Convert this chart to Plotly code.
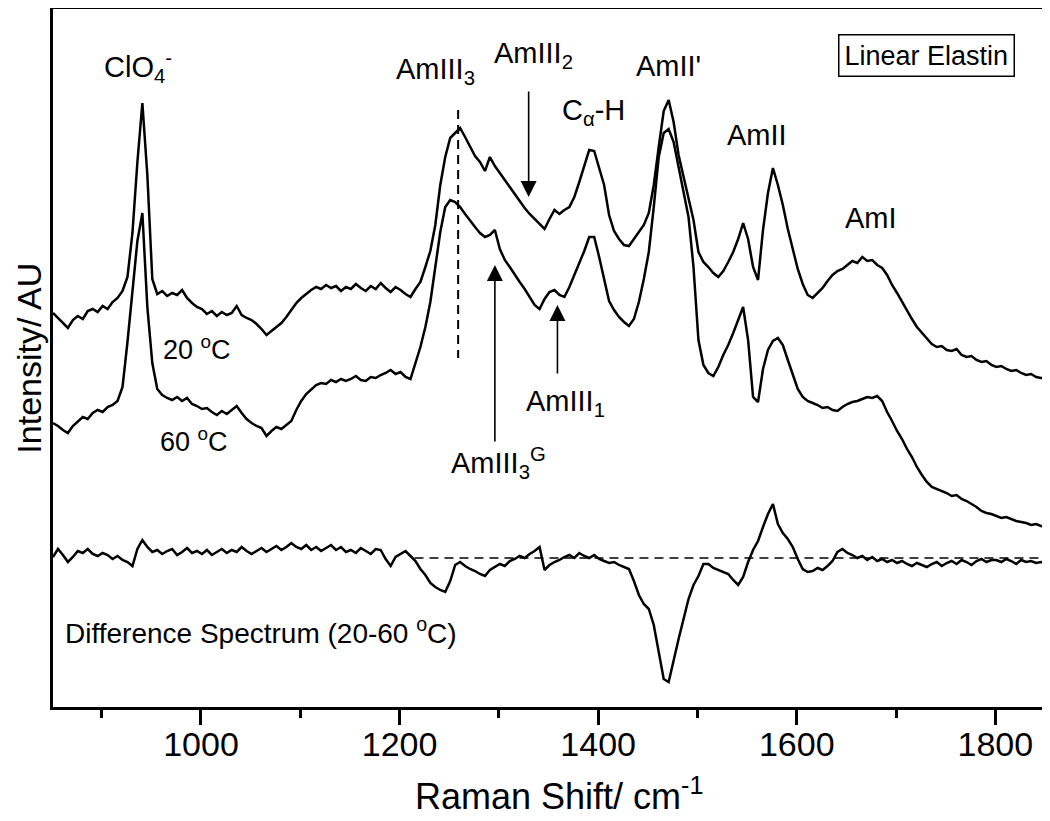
import plotly.graph_objects as go

# Raman shift grid (cm^-1), sampled every 5 cm^-1
RAMAN_SHIFT = list(range(851, 1852, 5))

# Intensity (arbitrary units)
INT_20C = [
    394, 389, 384, 379, 387, 391, 388, 396, 398, 395,
    401, 398, 405, 409, 416, 430, 474, 545, 604, 532,
    428, 413, 416, 411, 414, 412, 417, 409, 404, 400,
    398, 393, 396, 391, 395, 392, 394, 401, 392, 389,
    387, 383, 378, 372, 376, 380, 384, 390, 397, 404,
    409, 413, 417, 420, 418, 422, 419, 421, 416, 420,
    418, 423, 419, 416, 421, 418, 424, 419, 415, 420,
    417, 413, 410, 418, 425, 440, 456, 482, 522, 550,
    569, 574, 579, 570, 561, 551, 545, 536, 550, 541,
    534, 527, 520, 513, 505, 499, 493, 488, 484, 478,
    488, 497, 493, 497, 500, 510, 525, 540, 557, 556,
    540, 522, 492, 476, 468, 462, 461, 468, 474, 482,
    494, 522, 560, 596, 607, 585, 552, 530, 510, 487,
    455, 445, 440, 434, 430, 436, 445, 455, 468, 484,
    468, 440, 427, 477, 514, 539, 522, 502, 478, 458,
    438, 423, 412, 409, 414, 419, 426, 432, 436, 438,
    442, 446, 444, 450, 446, 447, 442, 439, 432, 422,
    414, 405, 396, 388, 380, 374, 368, 363, 360, 361,
    357, 356, 358, 352, 350, 351, 347, 345, 346, 342,
    340, 341, 338, 336, 337, 334, 332, 333, 330, 329,
    329,
]

INT_60C = [
    284, 281, 277, 274, 281, 286, 290, 288, 294, 297,
    295, 300, 302, 306, 320, 365, 418, 466, 494, 400,
    344, 318, 312, 309, 307, 310, 306, 309, 303, 301,
    298, 299, 295, 292, 296, 293, 297, 301, 294, 288,
    284, 281, 279, 271, 276, 280, 278, 282, 286, 297,
    306, 313, 318, 322, 324, 323, 327, 325, 328, 326,
    328, 331, 327, 326, 330, 329, 332, 334, 337, 333,
    335, 330, 328, 345, 360, 380, 405, 440, 475, 500,
    507, 505, 500, 493, 486, 480, 474, 470, 472, 477,
    458, 447, 440, 432, 425, 418, 410, 402, 398, 408,
    415, 417, 412, 410, 420, 432, 444, 456, 470, 470,
    450, 428, 406, 397, 390, 385, 381, 388, 405, 428,
    455, 500, 550, 574, 578, 565, 540, 512, 490, 440,
    367, 342, 334, 331, 340, 352, 362, 374, 388, 400,
    367, 310, 305, 338, 357, 366, 369, 362, 347, 332,
    318, 310, 306, 304, 302, 299, 300, 297, 296, 300,
    303, 305, 306, 308, 310, 309, 311, 306, 295, 286,
    276, 268, 258, 250, 240, 232, 225, 220, 218, 216,
    214, 211, 212, 208, 206, 203, 200, 196, 194, 193,
    191, 189, 190, 188, 186, 185, 184, 182, 183, 181,
    180,
]

INT_DIFF = [
    150, 158, 152, 145, 150, 156, 154, 158, 153, 151,
    154, 152, 148, 151, 147, 145, 141, 158, 167, 160,
    155, 157, 153, 156, 158, 152, 155, 159, 154, 156,
    153, 157, 152, 155, 158, 154, 157, 155, 160, 156,
    153, 156, 159, 155, 158, 161, 157, 160, 164, 160,
    158, 162, 157, 160, 156, 159, 162, 157, 160, 155,
    157, 154, 159, 156, 153, 158, 157, 148, 141, 150,
    153, 156, 151, 146, 138, 132, 124, 120, 117, 115,
    126, 142, 145, 141, 138, 136, 133, 131, 137, 140,
    143, 141, 146, 148, 151, 149, 153, 156, 160, 137,
    142, 145, 147, 150, 152, 149, 154, 151, 149, 152,
    148, 146, 144, 145, 142, 140, 138, 126, 112, 103,
    98, 82, 55, 28, 25, 48, 68, 88, 108, 122,
    131, 143, 143, 139, 137, 135, 133, 127, 122, 130,
    145, 157, 166, 180, 193, 203, 183, 174, 168, 160,
    148, 138, 135, 136, 139, 137, 141, 146, 155, 158,
    154, 152, 149, 151, 147, 150, 146, 148, 145, 147,
    144, 146, 143, 141, 144, 142, 140, 143, 145, 141,
    144, 146, 143, 147, 145, 142, 146, 148, 145, 147,
    147, 145, 148, 146, 143, 147, 145, 146, 144, 145,
    144,
]

# difference-spectrum zero line and AmIII3 marker
BASELINE_X = [1215, 1848]
BASELINE_Y = [149, 149]
AMIII3_X = [1259, 1259]
AMIII3_Y = [597, 349]

X_TICKS = [1000, 1200, 1400, 1600, 1800]
X_MINOR = [900, 1100, 1300, 1500, 1700]

FONT = "Liberation Sans, Arial, sans-serif"
fig = go.Figure()
for ys in (INT_20C, INT_60C, INT_DIFF):
    fig.add_trace(go.Scatter(x=RAMAN_SHIFT, y=ys, mode="lines",
                             line=dict(color="black", width=2.5),
                             showlegend=False, hoverinfo="skip"))
fig.add_trace(go.Scatter(x=BASELINE_X, y=BASELINE_Y, mode="lines",
                         line=dict(color="black", width=1.5, dash="9px,6px"),
                         showlegend=False))
fig.add_trace(go.Scatter(x=AMIII3_X, y=AMIII3_Y, mode="lines",
                         line=dict(color="black", width=2, dash="9px,6px"),
                         showlegend=False))

ann = []
def label(x, y, text, size=29, xanchor="center"):
    ann.append(dict(x=x, y=y, xref="x", yref="y", text=text, showarrow=False,
                    font=dict(size=size, color="black", family=FONT),
                    xanchor=xanchor, yanchor="middle"))

def arrow(x, y_head, y_tail):
    ann.append(dict(x=x, y=y_head, ax=x, ay=y_tail, xref="x", yref="y",
                    axref="x", ayref="y", text="", showarrow=True,
                    arrowhead=2, arrowsize=2, arrowwidth=1.6, arrowcolor="black"))

label(937, 640, "ClO<sub>4</sub><sup>-</sup>")
label(1236, 636, "AmIII<sub>3</sub>")
label(1335, 652, "AmIII<sub>2</sub>")
label(1395, 595, "C<sub>α</sub>-H")
label(1471, 641, "AmII'")
label(1560, 572, "AmII")
label(1675, 489, "AmI")
label(996, 359, "20 <sup>o</sup>C", size=27)
label(993, 267, "60 <sup>o</sup>C", size=27)
label(1300, 244, "AmIII<sub>3</sub><sup>G</sup>")
label(1367, 304, "AmIII<sub>1</sub>")
label(861, 76, "Difference Spectrum (20-60 <sup>o</sup>C)", size=28, xanchor="left")

arrow(1330, 510, 617)
arrow(1296, 442, 264)
arrow(1359, 402, 332)

ann.append(dict(x=1731, y=652, xref="x", yref="y", text="Linear Elastin",
                showarrow=False, font=dict(size=27, color="black", family=FONT),
                bordercolor="black", borderwidth=1.5, borderpad=5,
                xanchor="center", yanchor="middle"))

ann.append(dict(x=0.51, y=-0.125, xref="paper", yref="paper",
                text="Raman Shift/ cm<sup>-1</sup>", showarrow=False,
                font=dict(size=36, color="black", family=FONT),
                xanchor="center", yanchor="middle"))
ann.append(dict(x=-0.0245, y=0.50, xref="paper", yref="paper",
                text="Intensity/ AU", showarrow=False, textangle=-90,
                font=dict(size=34, color="black", family=FONT),
                xanchor="center", yanchor="middle"))

# the page body adds an 8 px offset, so the figure is sized to compensate
fig.update_layout(
    width=1042, height=813,
    margin=dict(l=45, r=4, t=1, b=114),
    paper_bgcolor="white", plot_bgcolor="white",
    font=dict(family=FONT, color="black"),
    annotations=ann,
    xaxis=dict(range=[851, 1851], tickvals=X_TICKS, ticks="outside",
               ticklen=15, tickwidth=2.5, tickcolor="black",
               ticklabelstandoff=-10,
               tickfont=dict(size=34, color="black", family=FONT),
               showline=True, linecolor="black", linewidth=2.5, mirror=True,
               showgrid=False, zeroline=False, automargin=False,
               minor=dict(tickvals=X_MINOR, ticks="outside",
                          ticklen=8, tickwidth=2.5, tickcolor="black")),
    yaxis=dict(range=[0, 698], showticklabels=False, ticks="",
               showline=True, linecolor="black", linewidth=2.5, mirror=True,
               showgrid=False, zeroline=False, automargin=False),
)

fig.write_html("out.html")
